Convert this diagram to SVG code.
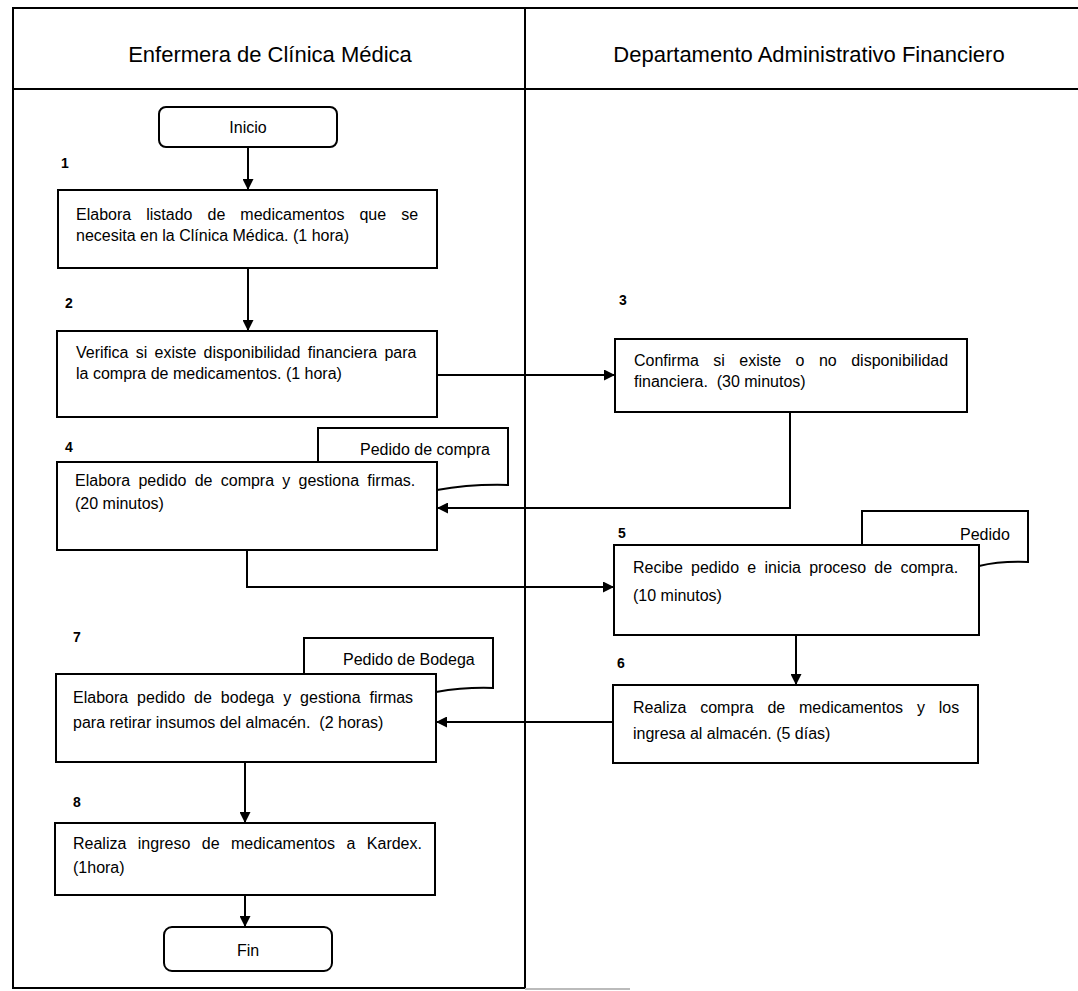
<svg xmlns="http://www.w3.org/2000/svg" width="1078" height="991" viewBox="0 0 1078 991">
<style>
text{font-family:"Liberation Sans",Arial,sans-serif;fill:#000}
.hdr{font-size:22px;text-anchor:middle}
.t{font-size:16px}
.c{font-size:16px;text-anchor:middle}
.num{font-size:14px;font-weight:bold}
.box{fill:#fff;stroke:#000;stroke-width:2}
.frame{fill:none;stroke:#000;stroke-width:2}
.conn{fill:none;stroke:#000;stroke-width:2}
</style>
<defs>
<marker id="ah" viewBox="0 0 10 10" refX="10" refY="5" markerWidth="11" markerHeight="11" markerUnits="userSpaceOnUse" orient="auto">
<path d="M0,0 L10,5 L0,10 z" fill="#000"/>
</marker>
</defs>
<rect width="1078" height="991" fill="#fff"/>
<g id="lanes">
<path class="frame" d="M1078,8 H13 V988 H525"/>
<path class="frame" d="M13,89 H1078"/>
<path class="frame" d="M525,8 V989"/>
<path d="M525,989 H630" stroke="#bbb" stroke-width="2"/>
<text class="hdr" x="270" y="62">Enfermera de Clínica Médica</text>
<text class="hdr" x="809" y="62">Departamento Administrativo Financiero</text>
</g>
<g id="connectors">
<path class="conn" d="M248,147 V190" marker-end="url(#ah)"/>
<path class="conn" d="M248,268 V331" marker-end="url(#ah)"/>
<path class="conn" d="M437,375 H615" marker-end="url(#ah)"/>
<path class="conn" d="M790,412 V508 H437" marker-end="url(#ah)"/>
<path class="conn" d="M247,550 V587 H614" marker-end="url(#ah)"/>
<path class="conn" d="M796,635 V685" marker-end="url(#ah)"/>
<path class="conn" d="M613,722 H436" marker-end="url(#ah)"/>
<path class="conn" d="M245,762 V823" marker-end="url(#ah)"/>
<path class="conn" d="M245,895 V927" marker-end="url(#ah)"/>
</g>
<g id="inicio">
<rect class="box" x="159" y="107" width="178" height="40" rx="7"/>
<text class="c" x="248" y="133">Inicio</text>
</g>
<g id="paso1">
<text class="num" x="61" y="168">1</text>
<rect class="box" x="58" y="190" width="379" height="78"/>
<text class="t" x="76" y="220" word-spacing="10.6">Elabora listado de medicamentos que se</text>
<text class="t" x="76" y="241">necesita en la Clínica Médica. (1 hora)</text>
</g>
<g id="paso2">
<text class="num" x="65" y="308">2</text>
<rect class="box" x="57" y="331" width="380" height="86"/>
<text class="t" x="76" y="358" word-spacing="2.8">Verifica si existe disponibilidad financiera para</text>
<text class="t" x="76" y="379">la compra de medicamentos. (1 hora)</text>
</g>
<g id="paso3">
<text class="num" x="619" y="305">3</text>
<rect class="box" x="615" y="339" width="352" height="73"/>
<text class="t" x="634" y="366" word-spacing="10">Confirma si existe o no disponibilidad</text>
<text class="t" x="634" y="387">financiera.&#160; (30 minutos)</text>
</g>
<g id="doc-pedido-compra">
<path class="box" d="M318,490 V428 H508 V485 Q470,484 437,490 Z"/>
<text class="t" x="360" y="455">Pedido de compra</text>
</g>
<g id="paso4">
<text class="num" x="65" y="452">4</text>
<rect class="box" x="57" y="462" width="380" height="88"/>
<text class="t" x="75" y="486" word-spacing="3.8">Elabora pedido de compra y gestiona firmas.</text>
<text class="t" x="75" y="509">(20 minutos)</text>
</g>
<g id="doc-pedido">
<path class="box" d="M862,566 V511 H1028 V562 Q1000,561 979,566 Z"/>
<text class="t" x="960" y="540">Pedido</text>
</g>
<g id="paso5">
<text class="num" x="618" y="538">5</text>
<rect class="box" x="614" y="545" width="365" height="90"/>
<text class="t" x="633" y="573" word-spacing="3.8">Recibe pedido e inicia proceso de compra.</text>
<text class="t" x="633" y="601">(10 minutos)</text>
</g>
<g id="paso6">
<text class="num" x="617" y="668">6</text>
<rect class="box" x="613" y="685" width="365" height="78"/>
<text class="t" x="633" y="713" word-spacing="9.4">Realiza compra de medicamentos y los</text>
<text class="t" x="633" y="739">ingresa al almacén. (5 días)</text>
</g>
<g id="doc-pedido-bodega">
<path class="box" d="M304,692 V638 H493 V688 Q465,687 436,692 Z"/>
<text class="t" x="343" y="665">Pedido de Bodega</text>
</g>
<g id="paso7">
<text class="num" x="73" y="642">7</text>
<rect class="box" x="56" y="674" width="380" height="88"/>
<text class="t" x="73" y="703" word-spacing="4.5">Elabora pedido de bodega y gestiona firmas</text>
<text class="t" x="73" y="728">para retirar insumos del almacén.&#160; (2 horas)</text>
</g>
<g id="paso8">
<text class="num" x="73" y="807">8</text>
<rect class="box" x="55" y="823" width="380" height="72"/>
<text class="t" x="73" y="849" word-spacing="7">Realiza ingreso de medicamentos a Kardex.</text>
<text class="t" x="73" y="873">(1hora)</text>
</g>
<g id="fin">
<rect class="box" x="164" y="927" width="168" height="44" rx="8"/>
<text class="c" x="248" y="956">Fin</text>
</g>
</svg>
